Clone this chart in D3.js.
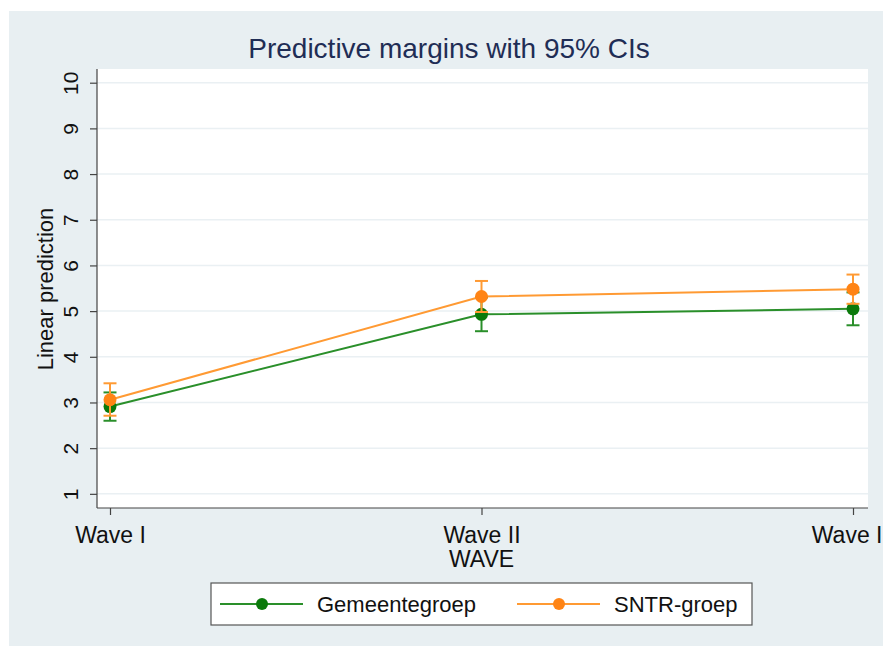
<!DOCTYPE html>
<html>
<head>
<meta charset="utf-8">
<script src="https://cdn.jsdelivr.net/npm/d3@7"></script>
<style>
  body { margin: 0; background: #fff; overflow: hidden; }
  svg { display: block; font-family: Arial, "Liberation Sans", sans-serif; }
</style>
</head>
<body>
<div id="chart"></div>
<script>
// data
const waves = ['Wave I', 'Wave II', 'Wave III'];
const groups = ['Gemeentegroep', 'SNTR-groep'];
const colors = ['#0b7a0b', '#ff8415'];
const lineColors = ['#2a8f2a', '#ff9a33'];
const gemeente = [2.91, 4.93, 5.05];
const gemeenteLo = [2.60, 4.56, 4.69];
const gemeenteHi = [3.22, 5.30, 5.41];
const sntr = [3.06, 5.32, 5.48];
const sntrLo = [2.71, 4.98, 5.16];
const sntrHi = [3.42, 5.66, 5.80];
const yTicks = [1, 2, 3, 4, 5, 6, 7, 8, 9, 10];

const W = 883, H = 646;
const plot = { left: 97, right: 868, top: 69, bottom: 508 };

const svg = d3.select('#chart').append('svg')
  .attr('width', W).attr('height', H);

// outer graph region
svg.append('rect')
  .attr('x', 9).attr('y', 11)
  .attr('width', W - 9).attr('height', H - 11)
  .style('fill', '#e8eff2');

svg.append('rect')
  .attr('x', plot.left).attr('y', plot.top)
  .attr('width', plot.right - plot.left).attr('height', plot.bottom - plot.top)
  .style('fill', '#fff');

let x = d3.scalePoint()
  .domain(waves)
  .range([110, 853]);

let y = d3.scaleLinear()
  .domain([0.69, 10.3])
  .range([plot.bottom, plot.top]);

// grid
svg.append('g')
  .selectAll('line')
  .data(yTicks)
  .enter()
  .append('line')
  .attr('x1', plot.left).attr('x2', plot.right)
  .attr('y1', d => y(d)).attr('y2', d => y(d))
  .style('stroke', '#eaf0f3')
  .style('stroke-width', 1.5);

// y axis
let yAxis = d3.axisLeft(y)
  .tickValues(yTicks)
  .tickSize(7)
  .tickPadding(6);

let gy = svg.append('g')
  .attr('transform', `translate(${plot.left},0)`)
  .call(yAxis);

gy.select('.domain').attr('d', `M0,${plot.top}V${plot.bottom}`);
gy.selectAll('.domain, .tick line').attr('stroke', '#444').attr('stroke-width', 1.2);
gy.selectAll('.tick text')
  .attr('x', 0).attr('dy', 0)
  .attr('transform', 'translate(-27,0) rotate(-90)')
  .attr('text-anchor', 'middle')
  .attr('dominant-baseline', 'central')
  .style('font-size', '21px')
  .style('fill', '#111');

// x axis
let xAxis = d3.axisBottom(x)
  .tickSize(7)
  .tickPadding(12);

let gx = svg.append('g')
  .attr('transform', `translate(0,${plot.bottom})`)
  .call(xAxis);

gx.select('.domain').attr('d', `M${plot.left},0H${plot.right}`);
gx.selectAll('.domain, .tick line').attr('stroke', '#444').attr('stroke-width', 1.2);
gx.selectAll('.tick text')
  .style('font-size', '23px')
  .style('fill', '#111');

// axis titles
svg.append('text')
  .attr('transform', 'translate(53,289) rotate(-90)')
  .attr('text-anchor', 'middle')
  .style('font-size', '22px')
  .style('fill', '#111')
  .text('Linear prediction');

svg.append('text')
  .attr('x', x('Wave II')).attr('y', 567)
  .attr('text-anchor', 'middle')
  .style('font-size', '23px')
  .style('fill', '#111')
  .text('WAVE');

svg.append('text')
  .attr('x', 449).attr('y', 58)
  .attr('text-anchor', 'middle')
  .style('font-size', '28px')
  .style('fill', '#1f2d55')
  .text('Predictive margins with 95% CIs');

// series
const series = [
  { mean: gemeente, lo: gemeenteLo, hi: gemeenteHi },
  { mean: sntr, lo: sntrLo, hi: sntrHi }
];

let line = d3.line()
  .x((d, i) => x(waves[i]))
  .y(d => y(d));

series.forEach((s, k) => {
  let g = svg.append('g');

  g.append('path')
    .attr('d', line(s.mean))
    .style('fill', 'none')
    .style('stroke', lineColors[k])
    .style('stroke-width', 2);

  let eb = g.selectAll('.eb')
    .data(waves)
    .enter()
    .append('g')
    .style('stroke', lineColors[k])
    .style('stroke-width', 2);

  eb.append('line')
    .attr('x1', d => x(d)).attr('x2', d => x(d))
    .attr('y1', (d, i) => y(s.lo[i])).attr('y2', (d, i) => y(s.hi[i]));

  [s.lo, s.hi].forEach(arr => {
    eb.append('line')
      .attr('x1', d => x(d) - 6.5).attr('x2', d => x(d) + 6.5)
      .attr('y1', (d, i) => y(arr[i])).attr('y2', (d, i) => y(arr[i]));
  });

  g.selectAll('circle')
    .data(s.mean)
    .enter()
    .append('circle')
    .attr('cx', (d, i) => x(waves[i]))
    .attr('cy', d => y(d))
    .attr('r', 6.5)
    .style('fill', colors[k]);
});

// legend
let leg = svg.append('g');
leg.append('rect')
  .attr('x', 211).attr('y', 583)
  .attr('width', 541).attr('height', 42)
  .style('fill', '#fff')
  .style('stroke', '#555')
  .style('stroke-width', 1.2);

const legX = [220, 517];
groups.forEach((name, k) => {
  let gl = leg.append('g').attr('transform', `translate(${legX[k]},604)`);
  gl.append('line')
    .attr('x1', 0).attr('x2', 83)
    .style('stroke', lineColors[k])
    .style('stroke-width', 2);
  gl.append('circle')
    .attr('cx', 42).attr('r', 6)
    .style('fill', colors[k]);
  gl.append('text')
    .attr('x', 97).attr('y', 8)
    .style('font-size', '22px')
    .style('fill', '#111')
    .text(name);
});
</script>
</body>
</html>
